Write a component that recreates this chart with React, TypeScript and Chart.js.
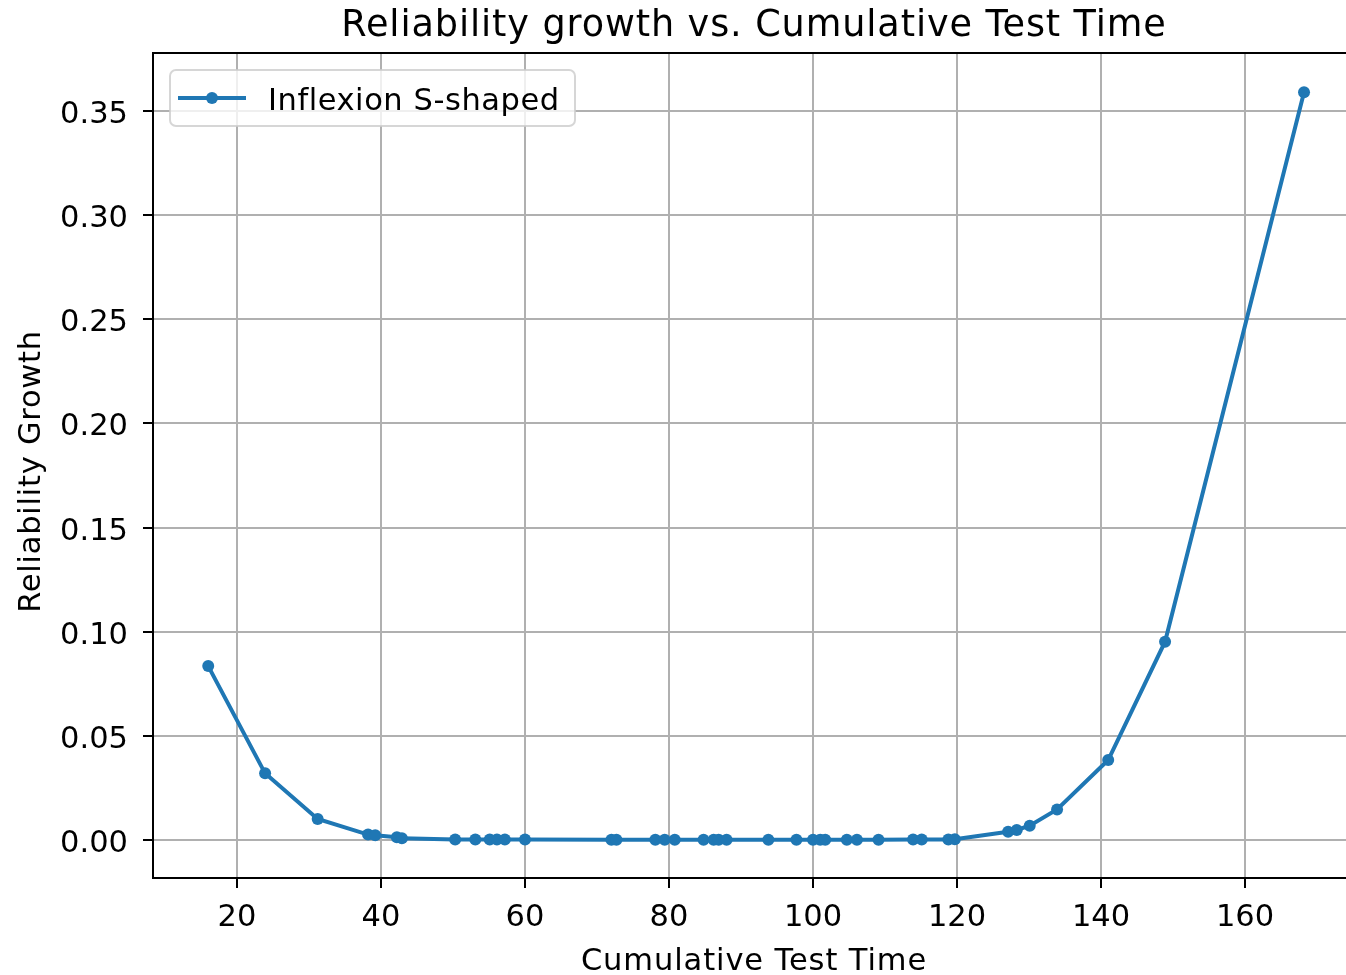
import React, { useEffect, useRef } from "react";
import { Chart, registerables } from "chart.js";

Chart.register(...registerables);

const chartTitle = "Reliability growth vs. Cumulative Test Time";
const xAxisTitle = "Cumulative Test Time";
const yAxisTitle = "Reliability Growth";
const seriesLabel = "Inflexion S-shaped";
const testTimes = [
  16.0, 23.9, 31.2, 38.2, 39.2, 42.2, 42.9, 50.3, 53.1, 55.1, 56.1, 57.2, 60.0,
  72.0, 72.7, 78.1, 79.4, 80.8, 84.8, 86.2, 86.9, 88.0, 93.8, 97.7, 100.0, 101.0,
  101.7, 104.7, 106.1, 109.1, 113.9, 115.1, 118.8, 119.7, 127.1, 128.3, 130.1,
  133.9, 141.0, 148.9, 168.2,
];
const growth = [
  0.0835, 0.032, 0.0101, 0.0026, 0.0023, 0.0013, 0.0008, 0.0003, 0.0003, 0.0002,
  0.0002, 0.0002, 0.0002, 0.0001, 0.0001, 0.0001, 0.0001, 0.0001, 0.0001, 0.0001,
  0.0001, 0.0001, 0.0001, 0.0001, 0.0001, 0.0001, 0.0001, 0.0001, 0.0001, 0.0001,
  0.0002, 0.0002, 0.0003, 0.0004, 0.004, 0.0048, 0.0069, 0.0147, 0.0384, 0.0952,
  0.359,
];
const xTicks = [20, 40, 60, 80, 100, 120, 140, 160];
const yTicks = [0, 0.05, 0.1, 0.15, 0.2, 0.25, 0.3, 0.35];

const FONT = "'DejaVu Sans', sans-serif";
const BLUE = "#1f77b4";
const TEXT = "#000";

const framePlugin = {
  id: "frame",
  afterDraw(chart: any) {
    const { ctx, chartArea } = chart;
    ctx.save();
    // top spine
    ctx.strokeStyle = "#000";
    ctx.lineWidth = 2;
    ctx.beginPath();
    ctx.moveTo(chartArea.left - 1, chartArea.top);
    ctx.lineTo(chartArea.right, chartArea.top);
    ctx.stroke();

    // title
    const cx = chartArea.left + 601;
    ctx.fillStyle = TEXT;
    ctx.textAlign = "center";
    ctx.textBaseline = "alphabetic";
    (ctx as any).letterSpacing = "0.9px";
    ctx.font = `36.6px ${FONT}`;
    ctx.fillText(chartTitle, cx, 36);

    // x axis title
    (ctx as any).letterSpacing = "0.9px";
    ctx.font = `30.5px ${FONT}`;
    ctx.fillText(xAxisTitle, cx, 970);

    // y axis title
    ctx.save();
    ctx.translate(40, (chartArea.top + chartArea.bottom) / 2 + 6);
    ctx.rotate(-Math.PI / 2);
    (ctx as any).letterSpacing = "0.75px";
    ctx.fillText(yAxisTitle, 0, 0);
    ctx.restore();

    // legend
    const lx = chartArea.left + 17;
    const ly = chartArea.top + 17;
    const lw = 405;
    const lh = 56;
    const r = 6;
    ctx.beginPath();
    ctx.moveTo(lx + r, ly);
    ctx.lineTo(lx + lw - r, ly);
    ctx.arcTo(lx + lw, ly, lx + lw, ly + r, r);
    ctx.lineTo(lx + lw, ly + lh - r);
    ctx.arcTo(lx + lw, ly + lh, lx + lw - r, ly + lh, r);
    ctx.lineTo(lx + r, ly + lh);
    ctx.arcTo(lx, ly + lh, lx, ly + lh - r, r);
    ctx.lineTo(lx, ly + r);
    ctx.arcTo(lx, ly, lx + r, ly, r);
    ctx.closePath();
    ctx.fillStyle = "rgba(255,255,255,0.8)";
    ctx.fill();
    ctx.strokeStyle = "rgba(204,204,204,0.8)";
    ctx.lineWidth = 2;
    ctx.stroke();
    const cy = ly + lh / 2;
    ctx.strokeStyle = BLUE;
    ctx.lineWidth = 4;
    ctx.beginPath();
    ctx.moveTo(lx + 8, cy);
    ctx.lineTo(lx + 76, cy);
    ctx.stroke();
    ctx.fillStyle = BLUE;
    ctx.beginPath();
    ctx.arc(lx + 42, cy, 6, 0, Math.PI * 2);
    ctx.fill();
    ctx.fillStyle = TEXT;
    ctx.font = `30.5px ${FONT}`;
    ctx.textBaseline = "alphabetic";
    ctx.textAlign = "left";
    (ctx as any).letterSpacing = "0.55px";
    ctx.fillText(chart.data.datasets[0].label, lx + 98, 110);
    ctx.restore();
  },
};

export default function App() {
  const ref = useRef<HTMLCanvasElement | null>(null);
  useEffect(() => {
    if (!ref.current) return;
    const chart = new Chart(ref.current, {
      type: "line",
      data: {
        datasets: [
          {
            label: seriesLabel,
            data: testTimes.map((x, i) => ({ x, y: growth[i] })),
            borderColor: BLUE,
            backgroundColor: BLUE,
            borderWidth: 4,
            pointRadius: 6,
            pointBorderWidth: 0,
            pointBackgroundColor: BLUE,
            tension: 0,
          },
        ],
      },
      options: {
        animation: false,
        responsive: false,
        maintainAspectRatio: false,
        layout: { padding: { top: 53, left: 0, right: 0, bottom: 0 }, autoPadding: false },
        plugins: {
          legend: { display: false },
          tooltip: { enabled: false },
          title: { display: false },
        },
        scales: {
          x: {
            type: "linear",
            min: 8.33,
            max: 174.03,
            afterBuildTicks: (s: any) => {
              s.ticks = xTicks.map((v) => ({ value: v }));
            },
            afterFit: (s: any) => {
              s.height = 97;
            },
            ticks: {
              color: TEXT,
              font: { family: FONT, size: 30.5 },
              padding: 12,
              maxRotation: 0,
              autoSkip: false,
            },
            grid: {
              color: "#b0b0b0",
              lineWidth: 2,
              tickColor: "#000",
              tickLength: 10,
              tickWidth: 2,
            },
            border: { display: true, color: "#000", width: 2 },
            title: { display: false },
          },
          y: {
            type: "linear",
            min: -0.01824,
            max: 0.37785,
            afterBuildTicks: (s: any) => {
              s.ticks = yTicks.map((v) => ({ value: v }));
            },
            afterFit: (s: any) => {
              s.width = 153;
            },
            ticks: {
              color: TEXT,
              font: { family: FONT, size: 30.5 },
              padding: 15,
              labelOffset: 4,
              autoSkip: false,
              callback: (v: any) => Number(v).toFixed(2),
            },
            grid: {
              color: "#b0b0b0",
              lineWidth: 2,
              tickColor: "#000",
              tickLength: 10,
              tickWidth: 2,
            },
            border: { display: true, color: "#000", width: 2 },
            title: { display: false },
          },
        },
      },
      plugins: [framePlugin],
    } as any);
    return () => chart.destroy();
  }, []);
  return (
    <div style={{ position: "fixed", left: 0, top: 0, width: 1346, height: 975, background: "#fff" }}>
      <canvas ref={ref} width={1346} height={975} style={{ width: 1346, height: 975, display: "block" }} />
    </div>
  );
}
